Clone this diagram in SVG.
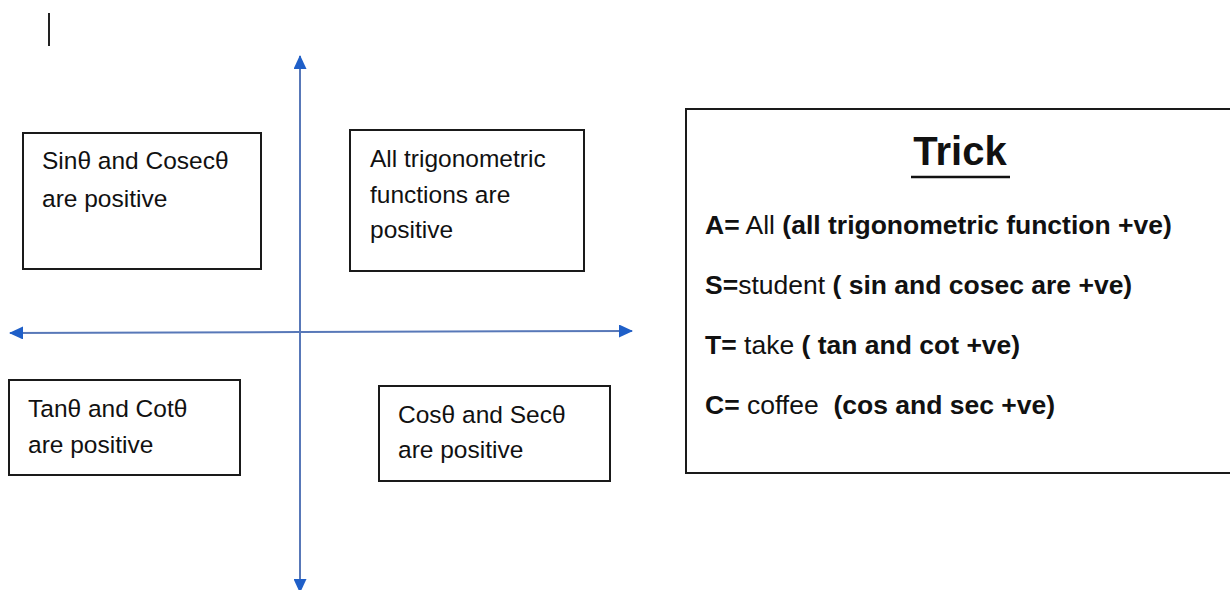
<svg xmlns="http://www.w3.org/2000/svg" width="1230" height="590" viewBox="0 0 1230 590">
<style>
.box{fill:#fff;stroke:#1a1a1a;stroke-width:2}
.t{font-family:"Liberation Sans",Arial,sans-serif;font-size:24.5px;fill:#111}
.k{font-family:"Liberation Sans",Arial,sans-serif;font-size:26.5px;fill:#111}
.title{font-family:"Liberation Sans",Arial,sans-serif;font-size:40px;font-weight:bold;fill:#111}
.b{font-weight:bold}
.axis{stroke:#5878b8;stroke-width:2;fill:none}
</style>
<defs>
<marker id="ah" viewBox="0 0 14 13" refX="13" refY="6.5" markerWidth="14" markerHeight="13" markerUnits="userSpaceOnUse" orient="auto">
<path d="M0,0 L14,6.5 L0,13 z" fill="#1f5fc8"/>
</marker>
</defs>
<rect width="1230" height="590" fill="#fff"/>
<line x1="49" y1="13" x2="49" y2="46" stroke="#222" stroke-width="2"/>
<g id="connectors">
<line class="axis" x1="300" y1="332" x2="300" y2="56" marker-end="url(#ah)"/>
<line class="axis" x1="300" y1="332" x2="300" y2="592" marker-end="url(#ah)"/>
<line class="axis" x1="300" y1="332" x2="10" y2="333" marker-end="url(#ah)"/>
<line class="axis" x1="300" y1="332" x2="632" y2="331" marker-end="url(#ah)"/>
</g>
<g id="q2">
<rect class="box" x="23" y="133" width="238" height="136"/>
<text class="t" x="42" y="169">Sinθ and Cosecθ</text>
<text class="t" x="42" y="207">are positive</text>
</g>
<g id="q1">
<rect class="box" x="350" y="130" width="234" height="141"/>
<text class="t" x="370" y="167">All trigonometric</text>
<text class="t" x="370" y="203">functions are</text>
<text class="t" x="370" y="238">positive</text>
</g>
<g id="q3">
<rect class="box" x="9" y="380" width="231" height="95"/>
<text class="t" x="28" y="417">Tanθ and Cotθ</text>
<text class="t" x="28" y="453">are positive</text>
</g>
<g id="q4">
<rect class="box" x="379" y="386" width="231" height="95"/>
<text class="t" x="398" y="423">Cosθ and Secθ</text>
<text class="t" x="398" y="458">are positive</text>
</g>
<g id="trick">
<rect class="box" x="686" y="109" width="560" height="364"/>
<text class="title" x="960" y="165" text-anchor="middle">Trick</text>
<line x1="911" y1="177" x2="1010" y2="177" stroke="#111" stroke-width="2.5"/>
<text class="k" x="705" y="234"><tspan class="b">A=</tspan> All <tspan class="b">(all trigonometric function +ve)</tspan></text>
<text class="k" x="705" y="294"><tspan class="b">S=</tspan>student <tspan class="b">( sin and cosec are +ve)</tspan></text>
<text class="k" x="705" y="354"><tspan class="b">T=</tspan> take <tspan class="b">( tan and cot +ve)</tspan></text>
<text class="k" x="705" y="414"><tspan class="b">C=</tspan> coffee&#160; <tspan class="b">(cos and sec +ve)</tspan></text>
</g>
</svg>
